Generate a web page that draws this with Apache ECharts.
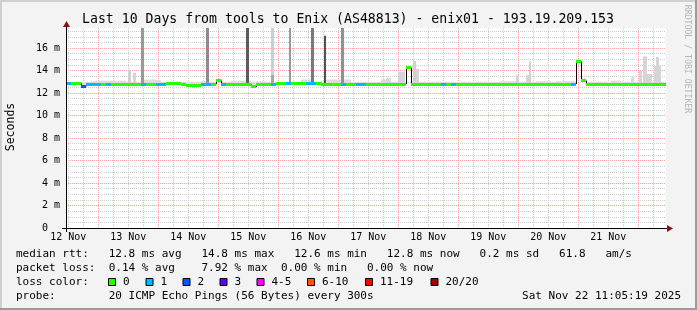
<!DOCTYPE html>
<html><head><meta charset="utf-8">
<script src="https://cdn.jsdelivr.net/npm/echarts@6/dist/echarts.min.js"></script>
<style>html,body{margin:0;padding:0;background:#f3f3f3}#c{width:697px;height:310px}</style>
</head><body><div id="c"></div>
<script>
// x values: hours since 12 Nov 2025 00:00 (graph covers 12 Nov 11:05:19 .. 22 Nov 11:05:19)
const startHour = 11.0886;
const endHour = 251.0886;
const binHours = 2;
const dayLabels = ['12 Nov','13 Nov','14 Nov','15 Nov','16 Nov','17 Nov','18 Nov','19 Nov','20 Nov','21 Nov'];
const dayLabelHours = [12,36,60,84,108,132,156,180,204,228];

// median RTT (ms) per 2-hour bin
const median = [
 12.85,12.85,12.85,12.6,12.8,12.8,12.8,12.8,12.8,12.8,
 12.8,12.8,12.8,12.8,12.8,12.8,12.8,12.8,12.8,12.8,
 12.85,12.85,12.85,12.8,12.7,12.7,12.7,12.75,12.8,12.8,
 13.1,12.75,12.75,12.75,12.75,12.75,12.75,12.55,12.8,12.8,
 12.8,12.8,12.85,12.85,12.85,12.85,12.85,12.85,12.85,12.85,
 12.85,12.75,12.75,12.75,12.8,12.8,12.8,12.8,12.8,12.8,
 12.8,12.8,12.8,12.8,12.8,12.8,12.8,12.8,14.25,12.75,
 12.75,12.75,12.75,12.75,12.75,12.75,12.75,12.75,12.75,12.75,
 12.75,12.75,12.75,12.75,12.75,12.75,12.75,12.75,12.75,12.75,
 12.75,12.75,12.75,12.75,12.75,12.75,12.75,12.75,12.75,12.75,
 12.8,12.8,14.8,13.1,12.8,12.8,12.8,12.8,12.8,12.8,
 12.8,12.8,12.8,12.8,12.8,12.8,12.8,12.8,12.8,12.8
];
// lost pings (of 20) per bin
const lostPings = [
 1,0,0,2,1,1,1,0,1,0,
 0,0,0,0,0,1,0,0,1,1,
 0,0,0,0,0,0,0,1,1,0,
 0,1,0,0,0,0,0,0,0,0,
 0,1,0,0,1,0,0,0,1,1,
 0,0,0,0,0,1,0,0,1,1,
 0,0,0,0,0,0,0,0,0,0,
 0,0,0,0,0,1,0,1,0,0,
 0,0,0,0,0,0,0,0,0,0,
 0,0,0,0,0,0,0,0,0,0,
 0,1,0,0,0,0,0,0,0,0,
 0,0,0,0,0,0,0,0,0,0
];
// upper edge of the ping smoke (ms) per bin
const smokeHi = [
 13.0,13.0,13.0,13.0,13.0,13.05,13.1,13.1,13.1,13.1,
 13.1,13.1,13.0,13.0,13.0,13.2,13.2,13.2,13.15,13.0,
 13.0,13.0,13.0,13.0,13.0,13.0,13.0,13.05,13.0,13.0,
 13.2,13.0,13.0,13.1,13.1,13.1,13.1,13.0,13.05,13.05,
 13.0,13.0,13.0,13.0,13.0,13.0,13.0,13.2,13.2,13.0,
 13.0,13.05,13.2,13.2,13.2,13.2,13.2,13.0,13.0,13.0,
 13.0,13.0,13.0,13.2,13.3,13.0,13.0,13.0,14.4,13.0,
 13.0,13.0,13.0,13.0,13.0,13.0,13.0,13.0,13.0,13.0,
 13.0,13.0,13.0,13.0,13.0,13.0,13.0,13.05,13.05,13.05,
 13.0,13.0,13.0,13.0,13.05,13.05,13.05,13.0,13.05,13.05,
 13.05,13.05,15.0,13.3,13.0,13.0,13.0,13.0,13.0,13.1,
 13.1,13.0,13.0,13.0,13.0,13.0,13.0,13.0,13.0,13.0
];
// short bursts of high pings: start hour, end hour, top (ms), share of pings
const burstStart = [41.1,67.0,83.1,93.1,93.1,100.3,109.1,114.3,121.1,35.9,37.9,137.1,139.1,143.9,149.9,151.1,191.1,195.1,196.3,237.1,240.3,241.9,243.5,246.3,247.1,248.3];
const burstEnd   = [42.3,68.3,84.3,94.3,94.3,101.1,110.3,115.1,122.3,37.1,39.1,139.1,140.7,146.7,151.1,152.3,192.3,196.3,197.1,238.3,241.5,243.5,245.5,247.5,248.3,249.1];
const burstTop   = [20,20,20,20,13.6,20,20,17.1,20,14.05,13.8,13.2,13.35,13.9,14.85,14.15,13.6,13.6,14.8,13.4,14.0,15.25,13.7,14.4,15.2,14.4];
const burstShare = [0.46,0.53,0.8,0.16,0.37,0.46,0.63,0.86,0.5,0.15,0.12,0.1,0.1,0.12,0.15,0.12,0.12,0.12,0.15,0.1,0.12,0.12,0.12,0.12,0.12,0.12];

const lossLabels = ['0','1','2','3','4-5','6-10','11-19','20/20'];
const lossLimits = [0,1,2,3,5,10,19,20];
const lossColors = ['#26ff00','#00b8ff','#0059ff','#5e00ff','#ff00ff','#ff5500','#ff0000','#a10000'];

const FONT = 'DejaVu Sans Mono';
function lossColor(n){ for (let k=0;k<lossLimits.length;k++) if (n<=lossLimits[k]) return lossColors[k]; return lossColors[7]; }
function grayOf(s){ const g=Math.round(235 - s*180); return 'rgb('+g+','+g+','+g+')'; }

const medianData = median.map((v,i)=>[startHour+i*binHours, startHour+(i+1)*binHours, v, lostPings[i]]);
const smokeData = median.map((v,i)=>[startHour+i*binHours, startHour+(i+1)*binHours, v, smokeHi[i]]);
const burstData = burstStart.map((s,i)=>[s, burstEnd[i], 12.9, burstTop[i], burstShare[i]]);
const vgridData = [];
for (let h=12; h<=246; h+=6) vgridData.push([h, h%24===0 ? 1 : 0]);

const chart = echarts.init(document.getElementById('c'), null, {renderer:'canvas', width:697, height:310});

const legendY = [254, 268, 282, 296];
const boxX = [108,145.5,182.5,219.5,256.5,307,365,430.5];
const graphics = [
  // frame
  {type:'rect', shape:{x:0,y:0,width:697,height:2}, style:{fill:'#cfcfcf'}, z:100},
  {type:'rect', shape:{x:0,y:0,width:2,height:310}, style:{fill:'#cfcfcf'}, z:100},
  {type:'rect', shape:{x:0,y:308,width:697,height:2}, style:{fill:'#9c9c9c'}, z:100},
  {type:'rect', shape:{x:695,y:0,width:2,height:310}, style:{fill:'#9c9c9c'}, z:100},
  // title
  {type:'text', x:348, y:19.5, style:{text:'Last 10 Days from tools to Enix (AS48813) - enix01 - 193.19.209.153', font:'13.2px '+FONT, fill:'#000', align:'center', verticalAlign:'middle'}, z:100},
  // axis label
  {type:'text', x:11, y:127, rotation:Math.PI/2, style:{text:'Seconds', font:'11.5px '+FONT, fill:'#000', align:'center', verticalAlign:'middle'}, z:100},
  // watermark
  {type:'text', x:687.5, y:59, rotation:-Math.PI/2, style:{text:'RRDTOOL / TOBI OETIKER', font:'8.2px '+FONT, fill:'#b4b4b4', align:'center', verticalAlign:'middle'}, z:100},
  // axes
  {type:'line', shape:{x1:62,y1:228.5,x2:668,y2:228.5}, style:{stroke:'#000',lineWidth:1}, z:100},
  {type:'line', shape:{x1:66.5,y1:232,x2:66.5,y2:24}, style:{stroke:'#000',lineWidth:1}, z:100},
  {type:'polygon', shape:{points:[[667,225],[673,228.5],[667,232]]}, style:{fill:'#8b1010'}, z:101},
  {type:'polygon', shape:{points:[[63,27],[66.5,21],[70,27]]}, style:{fill:'#8b1010'}, z:101},
  // legend text
  {type:'text', x:16, y:legendY[0], style:{text:'median rtt:   12.8 ms avg   14.8 ms max   12.6 ms min   12.8 ms now   0.2 ms sd   61.8   am/s', font:'11px '+FONT, fill:'#000', verticalAlign:'middle'}, z:100},
  {type:'text', x:16, y:legendY[1], style:{text:'packet loss:  0.14 % avg    7.92 % max  0.00 % min   0.00 % now', font:'11px '+FONT, fill:'#000', verticalAlign:'middle'}, z:100},
  {type:'text', x:16, y:legendY[2], style:{text:'loss color:', font:'11px '+FONT, fill:'#000', verticalAlign:'middle'}, z:100},
  {type:'text', x:16, y:legendY[3], style:{text:'probe:        20 ICMP Echo Pings (56 Bytes) every 300s', font:'11px '+FONT, fill:'#000', verticalAlign:'middle'}, z:100},
  {type:'text', x:681, y:legendY[3], style:{text:'Sat Nov 22 11:05:19 2025', font:'11px '+FONT, fill:'#000', align:'right', verticalAlign:'middle'}, z:100}
];
lossLabels.forEach((lab,k)=>{
  graphics.push({type:'rect', shape:{x:boxX[k]+0.5, y:278.5, width:7, height:7}, style:{fill:lossColors[k], stroke:'#000', lineWidth:1}, z:100});
  graphics.push({type:'text', x:boxX[k]+15, y:legendY[2], style:{text:lab, font:'11px '+FONT, fill:'#000', verticalAlign:'middle'}, z:100});
});

chart.setOption({
  animation:false,
  backgroundColor:'#f3f3f3',
  grid:{left:66, top:28, width:600, height:200, show:true, backgroundColor:'#ffffff', borderWidth:0, outerBoundsMode:'none', containLabel:false},
  xAxis:{type:'value', min:startHour, max:endHour,
    axisLine:{show:false}, axisTick:{show:false}, splitLine:{show:false},
    axisLabel:{customValues:dayLabelHours, formatter:(v)=>{const k=dayLabelHours.findIndex(h=>Math.abs(h-v)<0.01); return k>=0?dayLabels[k]:'';},
      fontFamily:FONT, fontSize:10, color:'#000', margin:4}},
  yAxis:{type:'value', min:0, max:17.78, interval:0.5,
    axisLine:{show:false}, axisTick:{show:false},
    axisLabel:{formatter:(v)=>{ if (Math.abs(v%2)>1e-6 || v>17) return ''; return v===0 ? '0  ' : (v+' m'); },
      fontFamily:FONT, fontSize:10, color:'#000', margin:6},
    splitLine:{show:true, showMaxLine:false, lineStyle:{color:['#f4a3a3','#cdcdcd','#cdcdcd','#cdcdcd'], type:[1,1], width:1}}},
  series:[
    {type:'custom', name:'grid', z:1, silent:true, data:vgridData, encode:{x:0},
      renderItem:(params, api)=>{
        const x = Math.round(api.coord([api.value(0),0])[0]) + 0.5;
        const cs = params.coordSys;
        return {type:'line', shape:{x1:x, y1:cs.y, x2:x, y2:cs.y+cs.height},
          style:{stroke: api.value(1) ? '#f4a3a3' : '#cdcdcd', lineWidth:1, lineDash:[1,1]}};
      }},
    {type:'custom', name:'smoke', z:2, clip:true, silent:true, data:smokeData, encode:{x:[0,1], y:[2,3]},
      renderItem:(params, api)=>{
        const a = api.coord([api.value(0), api.value(3)]);
        const b = api.coord([api.value(1), api.value(2)]);
        const x0 = Math.round(a[0]), x1 = Math.round(b[0]);
        return {type:'rect', shape:{x:x0, y:a[1], width:x1-x0, height:b[1]-a[1]}, style:{fill:'#dcdcdc'}};
      }},
    {type:'custom', name:'bursts', z:3, clip:true, silent:true, data:burstData, encode:{x:[0,1], y:[2,3]},
      renderItem:(params, api)=>{
        const a = api.coord([api.value(0), api.value(3)]);
        const b = api.coord([api.value(1), api.value(2)]);
        const x0 = Math.round(a[0]), x1 = Math.round(b[0]);
        return {type:'rect', shape:{x:x0, y:a[1], width:Math.max(1,x1-x0), height:b[1]-a[1]}, style:{fill:grayOf(api.value(4))}};
      }},
    {type:'custom', name:'median rtt', z:4, clip:true, silent:true, data:medianData, encode:{x:[0,1], y:2},
      renderItem:(params, api)=>{
        const i = params.dataIndex;
        const a = api.coord([api.value(0), api.value(2)]);
        const b = api.coord([api.value(1), api.value(2)]);
        const x0 = Math.round(a[0]), x1 = Math.round(b[0]);
        const kids = [];
        if (i>0) {
          const yp = api.coord([api.value(0), median[i-1]])[1];
          kids.push({type:'line', shape:{x1:x0+0.5, y1:yp, x2:x0+0.5, y2:a[1]}, style:{stroke:'#000', lineWidth:1}});
        }
        kids.push({type:'rect', shape:{x:x0, y:Math.round(a[1]-1.5), width:x1-x0, height:3}, style:{fill:lossColor(api.value(3))}});
        return {type:'group', children:kids};
      }}
  ],
  graphic:graphics
});
</script></body></html>
